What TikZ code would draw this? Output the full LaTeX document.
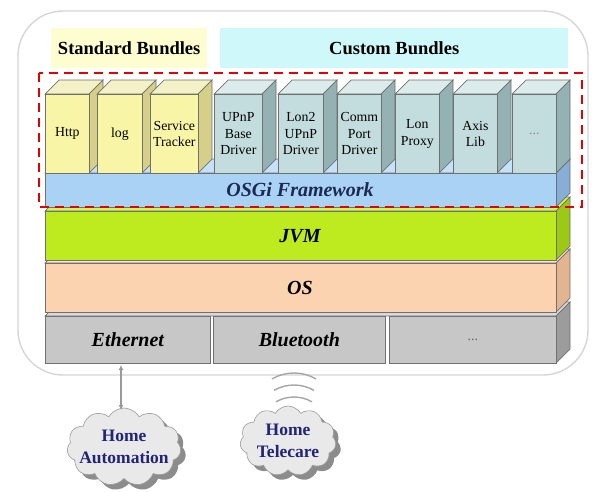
\documentclass[tikz,border=0pt]{standalone}
\usepackage{fontspec}
\setmainfont{Liberation Serif}
\usetikzlibrary{shapes.symbols,arrows.meta,shadows,calc}
\definecolor{edgec}{HTML}{707070}
\definecolor{stdfront}{HTML}{F9F5A6}
\definecolor{stdtop}{HTML}{F4F1C6}
\definecolor{stdside}{HTML}{D5CF8A}
\definecolor{cusfront}{HTML}{C3DCDD}
\definecolor{custop}{HTML}{DCEBEB}
\definecolor{cusside}{HTML}{94B2B3}
\definecolor{osgifront}{HTML}{A9D2F5}
\definecolor{osgitop}{HTML}{C6E2FA}
\definecolor{osgiside}{HTML}{86AED6}
\definecolor{jvmfront}{HTML}{BDEB1F}
\definecolor{jvmtop}{HTML}{D2F35C}
\definecolor{jvmside}{HTML}{9BC916}
\definecolor{osfront}{HTML}{FBD3B1}
\definecolor{ostop}{HTML}{FCE3CC}
\definecolor{osside}{HTML}{E2B590}
\definecolor{netfront}{HTML}{C7C7C7}
\definecolor{nettop}{HTML}{D9D9D9}
\definecolor{netside}{HTML}{9C9C9C}
\definecolor{stdhead}{HTML}{FEFDCF}
\definecolor{cushead}{HTML}{CFF8FA}
\definecolor{cloudtxt}{HTML}{232378}
\definecolor{cloudfill}{HTML}{E9E9E9}
\definecolor{osgitxt}{HTML}{1C2A52}
% #1 name, #2 x, #3 y, #4 w, #5 h, #6 front, #7 top, #8 side, #9 text
\newcommand{\cuboid}[9]{%
  \filldraw[facestyle, fill=#7] (#2,#3) -- ++(14,-14) -- ++(#4,0) -- ++(-14,14) -- cycle;
  \filldraw[facestyle, fill=#8] (#2+#4,#3) -- ++(14,-14) -- ++(0,#5) -- ++(-14,14) -- cycle;
  \node[frontbox, fill=#6, minimum width=#4, minimum height=#5] (#1) at (#2,#3) {#9};
}
\begin{document}
\begin{tikzpicture}[x=1pt,y=-1pt,
  facestyle/.style={draw=edgec, line width=0.7pt},
  frontbox/.style={draw=edgec, line width=0.7pt, anchor=north west, inner sep=0pt, align=center,
     font=\fontsize{13.8}{16.5}\selectfont},
  layertxt/.style={font=\fontsize{20}{23}\selectfont\bfseries\itshape},
  headtxt/.style={font=\fontsize{18.5}{21}\selectfont\bfseries},
  headbox/.style={inner sep=0pt, anchor=north west},
  cloudnode/.style={cloud, cloud puffs=11, cloud puff arc=120, cloud ignores aspect, draw=edgec!70, fill=cloudfill,
     line width=0.6pt, inner sep=0pt,
     drop shadow={shadow xshift=5pt, shadow yshift=-5pt, fill=black!45, opacity=1}},
  cloudtext/.style={align=center, text=cloudtxt, font=\fontsize{17.5}{21.5}\selectfont\bfseries},
]
\useasboundingbox (0,0) rectangle (592,491);
% outer frame
\draw[draw=black!16, line width=1.4pt, rounded corners=45] (18,11) rectangle (588,375);
% headers
\node[headbox, fill=stdhead, minimum width=156, minimum height=40] (stdh) at (51,28) {};
\node[headtxt] (stdt) at (stdh.center) {Standard Bundles};
\node[headbox, fill=cushead, minimum width=348, minimum height=40] (cush) at (220,28) {};
\node[headtxt] (cust) at (cush.center) {Custom Bundles};
% network layer
\filldraw[facestyle, fill=nettop] (45,316) -- ++(14,-14) -- ++(511,0) -- ++(-14,14) -- cycle;
\filldraw[facestyle, fill=netside] (556,316) -- ++(14,-14) -- ++(0,47) -- ++(-14,14) -- cycle;
\node[frontbox, fill=netfront, minimum width=165, minimum height=47, layertxt] (eth) at (45,316) {Ethernet};
\node[frontbox, fill=netfront, minimum width=172, minimum height=47, layertxt] (bt) at (213,316) {Bluetooth};
\node[frontbox, fill=netfront, minimum width=167, minimum height=47, text=black!60, font=\fontsize{14}{16}\selectfont] (netdots) at (389,316) {...};
% OS
\cuboid{os}{45}{263}{511}{49}{osfront}{ostop}{osside}{}
\node[layertxt] (ost) at (300,288) {OS};
% JVM
\cuboid{jvm}{45}{211}{511}{49}{jvmfront}{jvmtop}{jvmside}{}
\node[layertxt] (jvmt) at (300,236) {JVM};
% OSGi
\cuboid{osgi}{45}{173}{511}{34}{osgifront}{osgitop}{osgiside}{}
\node[layertxt, text=osgitxt] (osgit) at (300,190) {OSGi Framework};
% bundles
\cuboid{http}{45}{94}{44}{79}{stdfront}{stdtop}{stdside}{Http}
\cuboid{log}{97}{94}{45}{79}{stdfront}{stdtop}{stdside}{log}
\cuboid{strk}{150}{94}{48}{79}{stdfront}{stdtop}{stdside}{Service\\Tracker}
\cuboid{upnp}{214}{94}{48}{79}{cusfront}{custop}{cusside}{UPnP\\Base\\Driver}
\cuboid{lon2}{278}{94}{45}{79}{cusfront}{custop}{cusside}{Lon2\\UPnP\\Driver}
\cuboid{comm}{337}{94}{44}{79}{cusfront}{custop}{cusside}{Comm\\Port\\Driver}
\cuboid{lonp}{395}{94}{44}{79}{cusfront}{custop}{cusside}{Lon\\Proxy}
\cuboid{axis}{453}{94}{44}{79}{cusfront}{custop}{cusside}{Axis\\Lib}
\cuboid{more}{512}{94}{44}{79}{cusfront}{custop}{cusside}{\textcolor{black!45}{...}}
% red dashed frame
\draw[red!90!black, line width=2.6pt, dash pattern=on 9pt off 6pt] (39,73) rectangle (582,207);
% clouds
\node[cloudnode, minimum width=114, minimum height=78] (homeauto) at (124,447) {};
\node[cloudtext] (hatxt) at (homeauto.center) {Home\\Automation};
\node[cloudnode, minimum width=96, minimum height=70] (hometele) at (288,441) {};
\node[cloudtext] (httxt) at (hometele.center) {Home\\Telecare};
% arrow
\coordinate (ethb) at (121,365);
\coordinate (cloudtop) at (121,410);
\draw[black!40, line width=1.6pt, {Latex[length=5pt,width=5pt]}-{Latex[length=5pt,width=5pt]}] (ethb) -- (cloudtop);
% wireless arcs
\coordinate (wl) at (294,373);
\foreach \r [count=\i from 0] in {44,40,36}{
  \draw[black!35, line width=1.4pt] ($(wl)+(-\r/2,0.134*\r+\i*12)$) arc[start angle=240, end angle=300, radius=\r];
}
\end{tikzpicture}
\end{document}
